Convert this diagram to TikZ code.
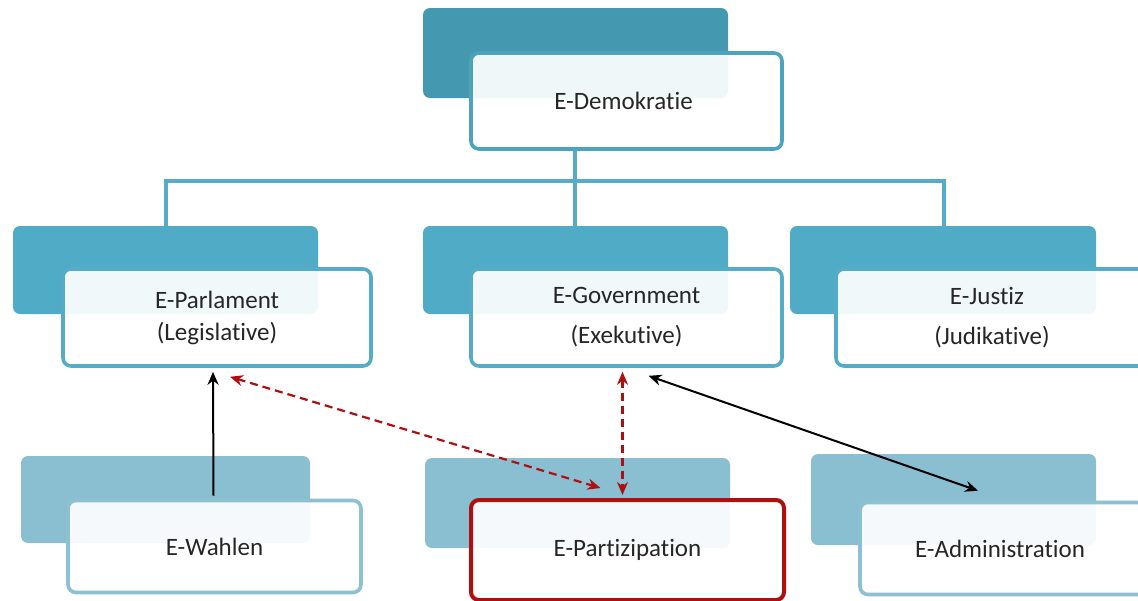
\documentclass[tikz,border=0pt]{standalone}
\usepackage{fontspec}
\setmainfont[Ligatures={NoCommon}]{Carlito}
\usetikzlibrary{arrows.meta,calc}
\definecolor{backA}{HTML}{4499B0}
\definecolor{backB}{HTML}{4FABC6}
\definecolor{backC}{HTML}{8ABFD2}
\definecolor{lineA}{HTML}{4BA3BE}
\definecolor{lineB}{HTML}{55ACC8}
\definecolor{lineC}{HTML}{8DC0D1}
\definecolor{redB}{HTML}{B00F0F}
\definecolor{txt}{HTML}{262626}
\tikzset{
  frontbox/.style={rounded corners=8pt, line width=3.6pt, fill=white, fill opacity=0.92, text opacity=1,
     inner sep=0pt, text=txt, font=\fontsize{25}{38}\selectfont, align=center, minimum width=310pt, minimum height=96pt},
  conn/.style={lineB, line width=3.6pt},
  blk/.style={black, line width=2pt, {Stealth[length=13pt,width=11pt]}-{Stealth[length=13pt,width=11pt]}},
  blkone/.style={black, line width=2pt, -{Stealth[length=13pt,width=11pt]}},
  reddash/.style={redB, line width=2.2pt, dash pattern=on 8pt off 5pt, {Stealth[length=13pt,width=11pt]}-{Stealth[length=13pt,width=11pt]}}
}
\begin{document}
\begin{tikzpicture}[x=1pt,y=-1pt]
\useasboundingbox (0,0) rectangle (1138,600);
\clip (0,0) rectangle (1138,600);
\fill[white] (0,0) rectangle (1138,600);
% back boxes
\fill[backA, rounded corners=7pt] (423,8) rectangle (728,98);
\fill[backB, rounded corners=7pt] (13,226) rectangle (318,314);
\fill[backB, rounded corners=7pt] (423,226) rectangle (728,314);
\fill[backB, rounded corners=7pt] (790,226) rectangle (1096,314);
\fill[backC, rounded corners=7pt] (21,456) rectangle (310,543);
\fill[backC, rounded corners=7pt] (425,458) rectangle (730,548);
\fill[backC, rounded corners=7pt] (811,454) rectangle (1096,545);
% junction coordinates of the tree
\coordinate (hl) at (166,181);
\coordinate (tc) at (575,181);
\coordinate (hr) at (944,181);
% front boxes
\node[frontbox, draw=lineA, minimum width=311pt, minimum height=96pt] (dem) at (626.5,101) {\hspace*{-6pt}E-Demokratie};
% tree lines
\draw[conn] (dem.south -| tc) -- (tc);
\draw[conn, line cap=rect] (hl) -- (hr);
\draw[conn] (hl) -- ++(0,45);
\draw[conn] (tc) -- ++(0,45);
\draw[conn] (hr) -- ++(0,45);
\node[frontbox, draw=lineB, minimum width=308pt, minimum height=97pt, font=\fontsize{25}{32}\selectfont] (par) at (217,317.5) {E-Parlament\\(Legislative)};
\node[frontbox, draw=lineB, minimum width=311pt, minimum height=97pt, font=\fontsize{25}{40}\selectfont] (gov) at (626.5,317.5) {E-Government\\(Exekutive)};
\node[frontbox, draw=lineB, minimum width=312pt, minimum height=97pt, text width=300pt, font=\fontsize{25}{40}\selectfont] (jus) at (992,317.5) {\hspace*{-10pt}E-Justiz\\(Judikative)};
\node[frontbox, draw=lineC, minimum width=293pt, minimum height=92pt] (wah) at (214.5,546.5) {E-Wahlen};
\node[frontbox, draw=redB, line width=4pt, minimum width=313pt, minimum height=100pt] (pat) at (627.5,550) {E-Partizipation};
\node[frontbox, draw=lineC, minimum width=300pt, minimum height=92pt, text width=280pt] (adm) at (1010,548.5) {\hspace*{-20pt}E-Administration};
% arrows
\draw[blkone] ($(wah.north)+(-1,-3)$) -- ($(par.south)+(-4,4)$);
\draw[reddash] ($(par.south)+(13,9)$) -- ($(pat.north)+(-27,-10)$);
\draw[reddash] ($(gov.south)+(-4,4)$) -- ($(pat.north)+(-5,-3)$);
\draw[blk] ($(gov.south)+(22,8)$) -- ($(adm.north)+(-32,-10)$);
\end{tikzpicture}
\end{document}
